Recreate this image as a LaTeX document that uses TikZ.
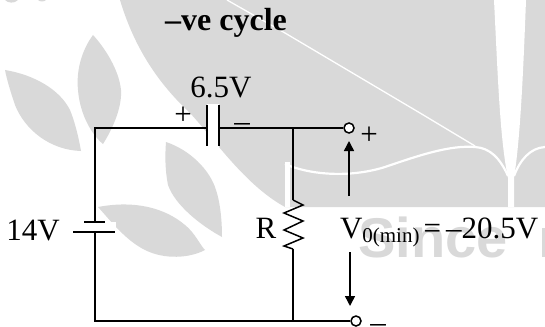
\documentclass[tikz,border=0pt]{standalone}
\usepackage{fontspec}
\setmainfont{Liberation Serif}
\newfontfamily\wmfont{Liberation Sans}
\usetikzlibrary{arrows.meta}
\definecolor{wm}{HTML}{D9D9D9}
\tikzset{
  wire/.style={line width=1.5pt,black,line join=miter},
  plate/.style={line width=1.5pt,black},
  lbl/.style={inner sep=0pt,outer sep=0pt,anchor=base,font=\fontsize{31}{31}\selectfont},
  sgn/.style={inner sep=0pt,outer sep=0pt,anchor=base,font=\fontsize{31}{31}\selectfont},
  terminal/.style={circle,draw=black,fill=white,line width=1.5pt,minimum size=10pt,inner sep=0pt},
  volt/.style={line width=1.5pt,-{Triangle[length=10pt,width=10pt]}},
  leaf/.style={fill=wm,draw=none}
}
\begin{document}
\begin{tikzpicture}[x=1pt,y=-1pt]
\useasboundingbox (0,0) rectangle (545,326);
\fill[white] (0,0) rectangle (545,326);
% watermark
\fill[wm] (120,0) .. controls (135,50) and (160,85) .. (190,113) .. controls (215,140) and (245,185) .. (285,207) -- (545,207) -- (545,0) -- cycle;
\fill[white] (494,0) -- (526,0) .. controls (523,80) and (520,140) .. (514,178) -- (514,207) -- (508,207) -- (508,178) .. controls (500,140) and (498,80) .. (494,0) -- cycle;
\draw[white,line width=2.2pt] (285,164) .. controls (310,175) and (350,178) .. (385,167) .. controls (420,155) and (450,145) .. (475,147) .. controls (490,148) and (500,158) .. (508,176);
\draw[white,line width=2.2pt] (514,176) .. controls (520,160) and (530,148) .. (545,147);
\draw[white,line width=1.3pt] (227,0) -- (285,33) -- (420,113) -- (475,146);
\fill[white] (285,162) rectangle (290,207);
\fill[leaf] (93,35) .. controls (82,50) and (76,70) .. (78,90) .. controls (80,115) and (92,135) .. (103,144) .. controls (115,125) and (122,105) .. (121,90) .. controls (119,70) and (105,48) .. (93,35) -- cycle;
\fill[leaf] (5,70) .. controls (35,75) and (60,90) .. (70,110) .. controls (76,125) and (79,140) .. (81,151) .. controls (50,150) and (25,130) .. (15,105) .. controls (10,90) and (7,80) .. (5,70) -- cycle;
\fill[leaf] (166,142) .. controls (190,150) and (210,170) .. (216,190) .. controls (221,205) and (222,225) .. (222,237) .. controls (200,225) and (175,205) .. (168,185) .. controls (165,170) and (165,155) .. (166,142) -- cycle;
\fill[leaf] (98,207) .. controls (135,200) and (165,208) .. (185,225) .. controls (195,233) and (200,245) .. (205,250) .. controls (190,258) and (165,260) .. (145,250) .. controls (125,240) and (110,220) .. (98,207) -- cycle;
\fill[leaf] (5,0) .. controls (8,3) and (14,4) .. (18,0) -- cycle;
\fill[leaf] (38,0) .. controls (40,2) and (44,2) .. (46,0) -- cycle;
\node[inner sep=0pt,anchor=base west,text=wm,font=\wmfont\bfseries\fontsize{56}{56}\selectfont] (since) at (358,257) {Since};
\fill[wm] (542,228) rectangle (545,257);
% white behind parts
\fill[white] (207,104) rectangle (219,149);
\fill[white] (105,222) rectangle (116,232);
% anchors
\coordinate (tl) at (95,128);
\coordinate (bl) at (95,321);
\coordinate (capL) at (207,128);
\coordinate (capR) at (219,128);
\coordinate (j1) at (293,128);
\coordinate (j2) at (293,321);
\coordinate (batS) at (95,222);
\coordinate (batL) at (95,232);
\coordinate (rt) at (293,200);
\coordinate (rb) at (293,249);
\coordinate (upS) at (349,196);
\coordinate (upE) at (349,141);
\coordinate (dnS) at (350,252);
\coordinate (dnE) at (350,306);
\node[terminal] (tp) at (349,128) {};
\node[terminal] (tm) at (356,321) {};
% wires
\draw[wire] (capL) -- (tl) -- (batS);
\draw[wire] (batL) -- (bl) -- (j2);
\draw[wire] (capR) -- (j1) -- (tp);
\draw[wire] (j1) -- (rt);
\draw[wire] (rb) -- (j2) -- (tm);
\draw[wire] (rt) -- ++(10,5) -- ++(-19,8) -- ++(19,8) -- ++(-19,9) -- ++(19,8) -- ++(-19,8) -- (rb);
% plates
\draw[plate] (207,105) -- (207,146);
\draw[plate] (219,105) -- (219,146);
\draw[plate] (84,222) -- (105,222);
\draw[plate] (73,232) -- (115,232);
% voltage arrows
\draw[volt] (upS) -- (upE);
\draw[volt] (dnS) -- (dnE);
% labels
\node[lbl,font=\bfseries\fontsize{32}{32}\selectfont] (title) at (226,31) {–ve cycle};
\node[lbl] (c65) at (221,98) {6.5V};
\node[lbl] (b14) at (33,240) {14V};
\node[lbl] (rl) at (266,238) {R};
\node[lbl,anchor=base west] (vo) at (340,238) {V\raisebox{-4.5pt}{\fontsize{21}{21}\selectfont 0(min)}\hspace{4pt}=\,–20.5V};
\node[sgn] (p1) at (183,124) {+};
\node[sgn] (m1) at (242,131) {–};
\node[sgn] (p2) at (369,144) {+};
\node[sgn] (m2) at (378,332) {–};
\end{tikzpicture}
\end{document}
